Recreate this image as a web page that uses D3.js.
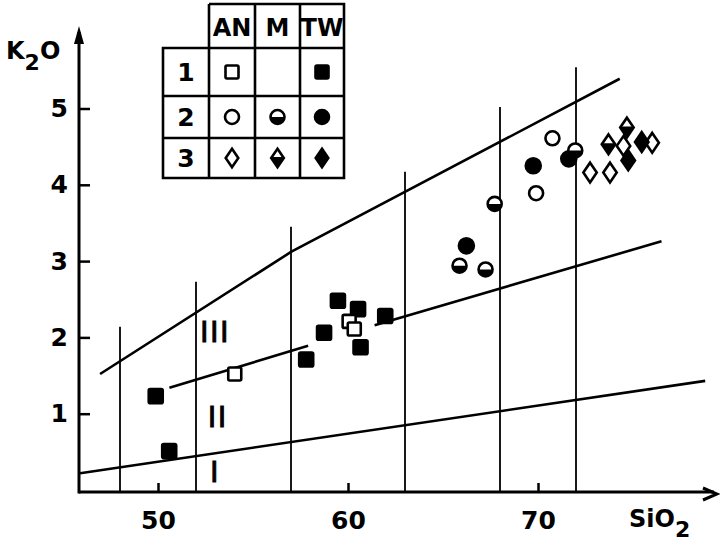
<!DOCTYPE html>
<html>
<head>
<meta charset="utf-8">
<script src="https://cdn.jsdelivr.net/npm/d3@7"></script>
<style>
  body { margin: 0; background: #fff; }
  text { font-family: "DejaVu Sans", sans-serif; fill: #000; }
</style>
</head>
<body>
<div class="chart"></div>
<script>
// tick labels
var xTicks = [50, 60, 70];
var yTicks = [1, 2, 3, 4, 5];

// series boundaries (SiO2, K2O)
var lowerLine = [[45.9, 0.22], [78.8, 1.43]];
var middleLeft = [[50.6, 1.34], [57.9, 1.89]];
var middleRight = [[61.4, 2.16], [76.5, 3.26]];
var upperLine = [[46.95, 1.52], [57, 3.12], [74.3, 5.39]];

// rock type dividers and their top ends
var dividers = [48, 52, 57, 63, 68, 72];
var dividerTops = [2.14, 2.73, 3.45, 4.17, 5.02, 5.54];

// samples
var anSquares = [[54.04, 1.52], [60.06, 2.21], [60.33, 2.11]];
var twSquares = [[49.88, 1.23], [50.59, 0.51], [57.8, 1.71], [58.74, 2.06], [59.47, 2.48], [60.53, 2.37], [60.66, 1.87], [61.96, 2.28]];
var anCircles = [[69.9, 3.89], [70.76, 4.61]];
var twCircles = [[66.23, 3.2], [69.75, 4.25], [71.62, 4.34]];
var mCircles = [[65.87, 2.94], [67.24, 2.89], [67.72, 3.75], [71.96, 4.45]];
var anDiamonds = [[72.74, 4.16], [73.79, 4.16], [74.5, 4.51], [76.01, 4.55]];
var mDiamonds = [[73.71, 4.53], [74.68, 4.75]];
var twDiamonds = [[74.75, 4.32], [75.46, 4.56]];

// legend table
var legendCols = ["AN", "M", "TW"];
var legendRows = ["1", "2", "3"];
var legendShapes = ["square", "circle", "diamond"];
var legendFills = [["open", null, "full"], ["open", "half", "full"], ["open", "half", "full"]];

// field labels
var fieldLabels = [["III", 53.0, 2.08], ["II", 53.15, 0.96], ["I", 53.0, 0.24]];

var svg = d3.select(".chart").append("svg")
    .attr("width", 720).attr("height", 543);

var x = d3.scaleLinear().domain([50, 70]).range([158, 538]);
var y = d3.scaleLinear().domain([0, 5]).range([490, 108.5]);

// axes
var axisX0 = 79, axisY0 = 492;
svg.append("line").attr("x1", axisX0).attr("y1", axisY0).attr("x2", 714).attr("y2", axisY0)
    .attr("stroke", "#000").attr("stroke-width", 3);
svg.append("line").attr("x1", axisX0).attr("y1", axisY0 + 1.5).attr("x2", axisX0).attr("y2", 32)
    .attr("stroke", "#000").attr("stroke-width", 3);
svg.append("path").attr("d", "M703,488L717,494L703,500").attr("fill", "none")
    .attr("stroke", "#000").attr("stroke-width", 3);
svg.append("path").attr("d", "M74,44L79,26L84,44Z").attr("fill", "#000");

var gx = svg.append("g").attr("transform", "translate(0," + axisY0 + ")")
    .call(d3.axisBottom(x).tickValues(xTicks).tickSize(-9).tickPadding(19));
var gy = svg.append("g").attr("transform", "translate(" + axisX0 + ",0)")
    .call(d3.axisLeft(y).tickValues(yTicks).tickSize(-11).tickPadding(11).tickFormat(d3.format("d")));
[gx, gy].forEach(function (g) {
    g.select(".domain").remove();
    g.selectAll(".tick line").attr("stroke", "#000").attr("stroke-width", 2.5);
    g.selectAll(".tick text").attr("font-family", "DejaVu Sans").attr("font-size", 25)
        .attr("font-weight", "bold").attr("fill", "#000");
});

// axis titles
var yt = svg.append("text").attr("x", 6).attr("y", 59).attr("font-size", 24).attr("font-weight", "bold");
yt.append("tspan").text("K");
yt.append("tspan").attr("dy", 11).attr("font-size", 22).text("2");
yt.append("tspan").attr("dy", -11).text("O");
var xt = svg.append("text").attr("x", 629).attr("y", 527).attr("font-size", 24).attr("font-weight", "bold");
xt.append("tspan").text("SiO");
xt.append("tspan").attr("dy", 10).attr("font-size", 22).text("2");

// dividers
svg.append("g").selectAll("line").data(dividers).enter().append("line")
    .attr("x1", function (d) { return x(d); })
    .attr("x2", function (d) { return x(d); })
    .attr("y1", function (d, i) { return y(dividerTops[i]); })
    .attr("y2", axisY0)
    .attr("stroke", "#000").attr("stroke-width", 1.8);

// boundaries
var line = d3.line().x(function (d) { return x(d[0]); }).y(function (d) { return y(d[1]); });
[lowerLine, middleLeft, middleRight, upperLine].forEach(function (pts) {
    svg.append("path").attr("d", line(pts)).attr("fill", "none")
        .attr("stroke", "#000").attr("stroke-width", 2.6);
});

// field labels
svg.append("g").selectAll("text").data(fieldLabels).enter().append("text")
    .attr("x", function (d) { return x(d[1]); })
    .attr("y", function (d) { return y(d[2]); })
    .attr("dy", "0.36em")
    .attr("text-anchor", "middle")
    .attr("font-size", 29).attr("letter-spacing", 1.5)
    .attr("stroke", "#000").attr("stroke-width", 0.9)
    .text(function (d) { return d[0]; });

// symbols
function symbol(g, shape, fill, s) {
    var sw = 2.6;
    if (shape === "square") {
        g.append("rect").attr("x", -s / 2).attr("y", -s / 2).attr("width", s).attr("height", s)
            .attr("rx", 1.5)
            .attr("fill", fill === "full" ? "#000" : "#fff").attr("stroke", "#000").attr("stroke-width", sw);
    } else if (shape === "circle") {
        var r = s / 2;
        g.append("circle").attr("r", r).attr("fill", fill === "full" ? "#000" : "#fff")
            .attr("stroke", "#000").attr("stroke-width", sw);
        if (fill === "half") {
            g.append("path").attr("d", "M" + (-r) + ",0A" + r + "," + r + " 0 0 0 " + r + ",0Z").attr("fill", "#000");
        }
    } else {
        var w = s * 0.42, h = s * 0.62;
        g.append("path").attr("d", "M0," + (-h) + "L" + w + ",0L0," + h + "L" + (-w) + ",0Z")
            .attr("fill", fill === "full" ? "#000" : "#fff").attr("stroke", "#000")
            .attr("stroke-width", sw).attr("stroke-linejoin", "miter");
        if (fill === "half") {
            g.append("path").attr("d", "M" + (-w) + ",-1L" + w + ",-1L0," + h + "Z").attr("fill", "#000");
        }
    }
}

function plot(data, shape, fill, s) {
    var gs = svg.append("g").selectAll("g").data(data).enter().append("g")
        .attr("transform", function (d) { return "translate(" + x(d[0]) + "," + y(d[1]) + ")"; });
    gs.each(function () { symbol(d3.select(this), shape, fill, s); });
}

plot(twSquares, "square", "full", 14);
plot(anSquares, "square", "open", 13);
plot(twCircles, "circle", "full", 15);
plot(anCircles, "circle", "open", 14);
plot(mCircles, "circle", "half", 14);
plot(anDiamonds, "diamond", "open", 16);
plot(mDiamonds, "diamond", "half", 16);
plot(twDiamonds, "diamond", "full", 16);

// legend table
var colX = [163, 209, 255, 300, 344];
var rowY = [4, 48, 96, 138, 178];
var leg = svg.append("g");
leg.append("path").attr("fill", "none").attr("stroke", "#000").attr("stroke-width", 2.6)
    .attr("d",
        "M" + colX[1] + "," + rowY[0] + "H" + colX[4] + "V" + rowY[4] + "H" + colX[0] + "V" + rowY[1] + "H" + colX[4] +
        "M" + colX[1] + "," + rowY[0] + "V" + rowY[4] +
        "M" + colX[2] + "," + rowY[0] + "V" + rowY[4] +
        "M" + colX[3] + "," + rowY[0] + "V" + rowY[4] +
        "M" + colX[0] + "," + rowY[2] + "H" + colX[4] +
        "M" + colX[0] + "," + rowY[3] + "H" + colX[4]);
leg.selectAll("text.col").data(legendCols).enter().append("text")
    .attr("x", function (d, i) { return (colX[i + 1] + colX[i + 2]) / 2; })
    .attr("y", 36).attr("text-anchor", "middle")
    .attr("font-size", 24).attr("font-weight", "bold")
    .text(function (d) { return d; });
leg.selectAll("text.row").data(legendRows).enter().append("text")
    .attr("x", 186)
    .attr("y", function (d, i) { return (rowY[i + 1] + rowY[i + 2]) / 2 + 9; })
    .attr("text-anchor", "middle")
    .attr("font-size", 25).attr("font-weight", "bold")
    .text(function (d) { return d; });
legendFills.forEach(function (row, i) {
    row.forEach(function (f, j) {
        if (!f) return;
        var g = leg.append("g").attr("transform", "translate(" + (colX[j + 1] + colX[j + 2]) / 2 + "," + (rowY[i + 1] + rowY[i + 2]) / 2 + ")");
        var s = legendShapes[i] === "diamond" ? 15 : (legendShapes[i] === "square" ? 13 : 14);
        symbol(g, legendShapes[i], f, s);
    });
});
</script>
</body>
</html>
